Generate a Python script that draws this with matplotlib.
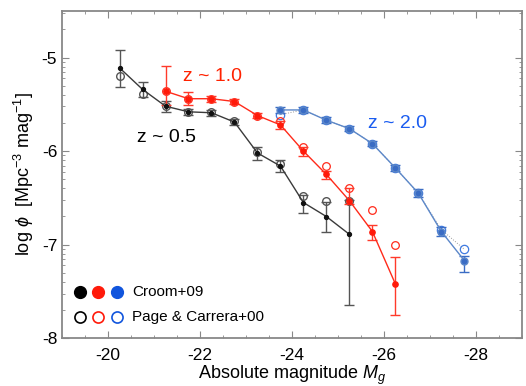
import numpy as np
import matplotlib
matplotlib.use('Agg')
import matplotlib.pyplot as plt
from matplotlib.ticker import MultipleLocator, FixedLocator

plt.rcParams['font.family'] = ['Liberation Sans', 'DejaVu Sans']
plt.rcParams['mathtext.fontset'] = 'custom'
plt.rcParams['mathtext.rm'] = 'Liberation Sans'
plt.rcParams['mathtext.it'] = 'Liberation Sans:italic'
plt.rcParams['axes.unicode_minus'] = False

# z ~ 0.5 (black)
black_mag = [-20.25, -20.75, -21.25, -21.75, -22.25, -22.75, -23.25, -23.75, -24.25, -24.75, -25.25]
black_phi = [-5.11, -5.34, -5.52, -5.58, -5.59, -5.69, -6.02, -6.16, -6.55, -6.70, -6.89]
black_err_hi = [0.19, 0.08, 0.06, 0.03, 0.03, 0.03, 0.06, 0.06, 0.08, 0.16, 0.37]
black_err_lo = [0.20, 0.08, 0.06, 0.03, 0.03, 0.03, 0.08, 0.06, 0.11, 0.16, 0.76]
black_open = [-5.20, -5.39, -5.52, -5.58, -5.58, -5.68, -6.01, -6.14, -6.48, -6.53, -6.53]

# z ~ 1.0 (red)
red_mag = [-21.25, -21.75, -22.25, -22.75, -23.25, -23.75, -24.25, -24.75, -25.25, -25.75, -26.25]
red_phi = [-5.36, -5.44, -5.44, -5.47, -5.62, -5.72, -6.00, -6.25, -6.53, -6.86, -7.42]
red_err_hi = [0.27, 0.07, 0.03, 0.03, 0.03, 0.04, 0.04, 0.04, 0.14, 0.07, 0.29]
red_err_lo = [0.15, 0.07, 0.03, 0.03, 0.03, 0.04, 0.05, 0.05, 0.04, 0.09, 0.33]
red_open = [-5.36, -5.44, -5.44, -5.47, -5.62, -5.68, -5.96, -6.16, -6.39, -6.63, -7.00]

# z ~ 2.0 (blue)
blue_mag = [-23.75, -24.25, -24.75, -25.25, -25.75, -26.25, -26.75, -27.25, -27.75]
blue_phi = [-5.56, -5.56, -5.67, -5.76, -5.92, -6.18, -6.45, -6.86, -7.17]
blue_err_hi = [0.03, 0.03, 0.03, 0.03, 0.03, 0.03, 0.04, 0.05, 0.05]
blue_err_lo = [0.03, 0.03, 0.03, 0.03, 0.03, 0.03, 0.04, 0.05, 0.12]
blue_open = [-5.61, -5.56, -5.67, -5.76, -5.92, -6.18, -6.45, -6.84, -7.05]

fig = plt.figure(figsize=(5.26, 3.86), dpi=100)
ax = fig.add_axes([0.118, 0.124, 0.874, 0.848])

# open circles (Page & Carrera+00)
ax.plot(blue_mag, blue_open, ls=':', color='#999999', lw=0.7, marker='o', ms=6,
        mfc='none', mec='#3f7ae0', mew=0.9, zorder=2)
ax.plot(black_mag, black_open, ls='none', marker='o', ms=5.5, mfc='none',
        mec='#555555', mew=1.0, zorder=2)
ax.plot(red_mag, red_open, ls='none', marker='o', ms=5.5, mfc='none',
        mec='#ff2a1a', mew=0.9, zorder=2)

# filled (Croom+09)
ax.errorbar(black_mag, black_phi, yerr=[black_err_lo, black_err_hi], color='#3a3a3a',
            lw=1.0, marker='o', ms=2.8, mfc='#111111', mec='#111111', ecolor='#555555',
            elinewidth=1.0, capsize=3.5, capthick=1.0, zorder=3)
ax.errorbar(red_mag, red_phi, yerr=[red_err_lo, red_err_hi], color='#ff2a1a',
            lw=1.0, marker='o', ms=3.8, mfc='#ff1a0a', mec='#ff1a0a', ecolor='#ff3a2a',
            elinewidth=1.0, capsize=3.5, capthick=1.0, zorder=3)
ax.errorbar(blue_mag, blue_phi, yerr=[blue_err_lo, blue_err_hi], color='#5b87c9',
            lw=1.0, marker='o', ms=5, mfc='#3a6cc4', mec='#5b87c9', ecolor='#3a6cc4',
            elinewidth=1.0, capsize=3.5, capthick=1.0, zorder=3)

ax.text(-21.63, -5.20, 'z ~ 1.0', color='#ff2200', fontsize=14, va='center')
ax.text(-20.63, -5.85, 'z ~ 0.5', color='black', fontsize=14, va='center')
ax.text(-25.65, -5.70, 'z ~ 2.0', color='#1a5cf0', fontsize=14, va='center')

# legend
leg_colors = ['black', '#ff1a0a', '#1155dd']
for i, c in enumerate(leg_colors):
    ax.plot(0.039 + 0.04 * i, 0.1415, 'o', ms=8.5, color=c, transform=ax.transAxes)
    ax.plot(0.039 + 0.04 * i, 0.065, 'o', ms=8, mfc='none', mec=c, mew=1.2,
            transform=ax.transAxes)
ax.text(0.152, 0.1415, 'Croom+09', fontsize=11, va='center', transform=ax.transAxes)
ax.text(0.152, 0.065, 'Page & Carrera+00', fontsize=11, va='center', transform=ax.transAxes)

ax.set_xlim(-19, -29)
ax.set_ylim(-8, -4.5)
ax.xaxis.set_major_locator(MultipleLocator(2))
ax.xaxis.set_minor_locator(MultipleLocator(0.5))
ax.yaxis.set_major_locator(MultipleLocator(1))
minor_y = [n + np.log10(k) for n in range(-8, -4) for k in range(2, 10)]
ax.yaxis.set_minor_locator(FixedLocator(minor_y))
ax.tick_params(which='both', direction='in', top=True, right=True, color='#888888')
ax.tick_params(which='major', length=5, labelsize=12.5)
ax.tick_params(which='minor', length=2.5)
ax.tick_params(axis='x', pad=7)
for s in ax.spines.values():
    s.set_color('#888888')
    s.set_linewidth(1.3)

ax.set_xlabel('Absolute magnitude $M_g$', fontsize=13, labelpad=1)
ax.set_ylabel(r'log $\phi$  [Mpc$^{-3}$ mag$^{-1}$]', fontsize=13, labelpad=4)

fig.savefig('out.png', dpi=100)
